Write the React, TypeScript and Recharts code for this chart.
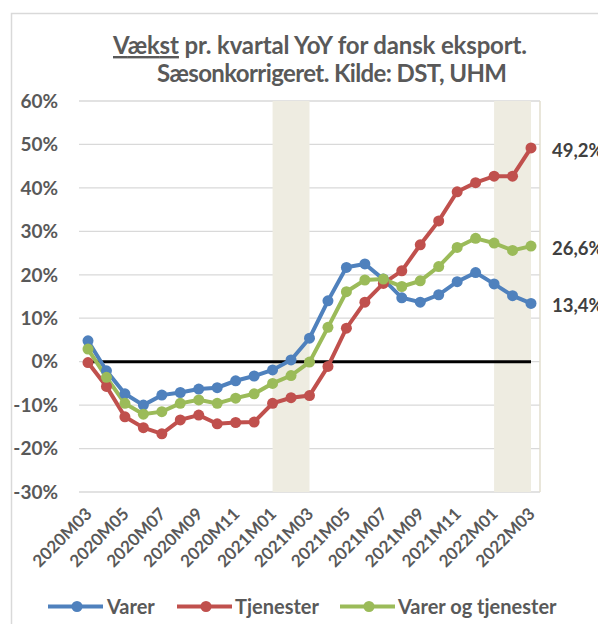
import React from 'react';
import {
  LineChart,
  Line,
  XAxis,
  YAxis,
  CartesianGrid,
  ReferenceArea,
  ReferenceLine,
  LabelList,
} from 'recharts';

const months = [
  '2020M03', '2020M04', '2020M05', '2020M06', '2020M07', '2020M08', '2020M09',
  '2020M10', '2020M11', '2020M12', '2021M01', '2021M02', '2021M03', '2021M04',
  '2021M05', '2021M06', '2021M07', '2021M08', '2021M09', '2021M10', '2021M11',
  '2021M12', '2022M01', '2022M02', '2022M03',
];

const varer = [
  4.8, -2.1, -7.4, -10.0, -7.7, -7.1, -6.3, -6.0, -4.4, -3.3, -1.9, 0.4, 5.4,
  14.0, 21.7, 22.5, 19.0, 14.7, 13.7, 15.4, 18.4, 20.5, 17.9, 15.2, 13.4,
];

const tjenester = [
  -0.2, -5.7, -12.7, -15.2, -16.6, -13.4, -12.3, -14.3, -14.0, -13.9, -9.6, -8.3,
  -7.8, -1.1, 7.7, 13.7, 18.0, 20.9, 26.9, 32.4, 39.1, 41.2, 42.7, 42.7, 49.2,
];

const varerOgTjenester = [
  2.9, -3.6, -9.6, -12.1, -11.5, -9.6, -8.8, -9.6, -8.4, -7.4, -5.0, -3.2, -0.1,
  7.9, 16.1, 18.8, 19.0, 17.3, 18.6, 21.9, 26.3, 28.4, 27.3, 25.6, 26.6,
];

const yTicks = [-30, -20, -10, 0, 10, 20, 30, 40, 50, 60];
const rightAxisTicks = [0, 0.25, 0.5, 0.75, 1];
const shadedPeriods = [
  ['2021M01', '2021M03'],
  ['2022M01', '2022M03'],
];

const seriesNames = ['Varer', 'Tjenester', 'Varer og tjenester'];
const seriesKeys = ['varer', 'tjenester', 'samlet'];
const seriesColors = ['#4F81BD', '#C0504D', '#9BBB59'];

const data = months.map((m, i) => ({
  month: m,
  varer: varer[i],
  tjenester: tjenester[i],
  samlet: varerOgTjenester[i],
}));

const FONT = "Lato, 'Open Sans', sans-serif";
const TEXT = '#595959';
const LAST = months.length - 1;

const fmt = (v: number) => `${v.toFixed(1).replace('.', ',')}%`;

const XTick = (props: any) => {
  const { x, y, payload } = props;
  const ex = x + 5;
  const ey = y + 23;
  return (
    <text
      x={ex}
      y={ey}
      transform={`rotate(-45 ${ex} ${ey})`}
      textAnchor="end"
      fontFamily={FONT}
      fontWeight={700}
      fontSize={17}
      fill={TEXT}
    >
      {payload.value}
    </text>
  );
};

const endLabel = (p: any) => {
  if (p.index !== LAST) return null;
  return (
    <text
      x={p.x + 21}
      y={p.y + 2}
      dy="0.36em"
      textAnchor="start"
      fontFamily={FONT}
      fontWeight={700}
      fontSize={18.5}
      fill="#404040"
    >
      {fmt(p.value)}
    </text>
  );
};

const legendLayout = [
  { lineX: 48, textX: 107 },
  { lineX: 177, textX: 235 },
  { lineX: 340, textX: 398 },
];

export default function App() {
  return (
    <div style={{ position: 'relative', width: 598, height: 616 }}>
      <div
        style={{
          position: 'absolute',
          left: -8,
          top: -8,
          width: 606,
          height: 624,
          background: '#ffffff',
          overflow: 'hidden',
        }}
      >
        <LineChart
          width={606}
          height={624}
          data={data}
          margin={{ top: 101, right: 0, bottom: 0, left: 0 }}
        >
          <CartesianGrid vertical={false} stroke="#D9D9D9" strokeWidth={1.3} />
          {shadedPeriods.map(([a, b]) => (
            <ReferenceArea
              key={a}
              x1={a}
              x2={b}
              fill="#EEECE1"
              fillOpacity={1}
              stroke="none"
              ifOverflow="visible"
            />
          ))}
          <XAxis
            dataKey="month"
            type="category"
            padding={{ left: 9, right: 9 }}
            height={132}
            interval={1}
            axisLine={false}
            tickLine={false}
            tickSize={0}
            tickMargin={0}
            tick={<XTick />}
          />
          <YAxis
            domain={[-30, 60]}
            ticks={yTicks}
            width={79}
            axisLine={false}
            tickLine={false}
            tickSize={0}
            tickMargin={21}
            tickFormatter={(v: number) => `${v}%`}
            tick={{ fontFamily: FONT, fontWeight: 700, fontSize: 19, fill: TEXT }}
          />
          <YAxis
            yAxisId="right"
            orientation="right"
            domain={[0, 1.2]}
            ticks={rightAxisTicks}
            width={66}
            axisLine={{ stroke: '#E2DECE', strokeWidth: 1.5 }}
            tickLine={{ stroke: '#E2DECE', strokeWidth: 1.5 }}
            tickSize={5}
            tick={false}
          />
          <ReferenceLine
            segment={[
              { x: months[0], y: 0 },
              { x: months[LAST], y: 0 },
            ]}
            stroke="#000000"
            strokeWidth={3}
          />
          {seriesKeys.map((k, i) => (
            <Line
              key={k}
              dataKey={k}
              name={seriesNames[i]}
              type="linear"
              stroke={seriesColors[i]}
              strokeWidth={4}
              dot={{ r: 5.5, fill: seriesColors[i], stroke: seriesColors[i], strokeWidth: 0 }}
              activeDot={false}
              isAnimationActive={false}
            >
              <LabelList dataKey={k} content={endLabel} />
            </Line>
          ))}
        </LineChart>
        <svg
          width={606}
          height={624}
          style={{ position: 'absolute', left: 0, top: 0, pointerEvents: 'none' }}
        >
          <line x1={1.5} y1={0} x2={1.5} y2={624} stroke="#E3E3E3" strokeWidth={1.5} />
          <rect x={11.5} y={13.5} width={700} height={700} fill="none" stroke="#D9D9D9" strokeWidth={1.5} />
          <text
            x={113}
            y={54}
            fontFamily={FONT}
            fontWeight={700}
            fontSize={24}
            fill={TEXT}
            textLength={414}
            lengthAdjust="spacing"
          >
            <tspan style={{ textDecoration: 'underline' }}>Vækst</tspan>
            <tspan> pr. kvartal YoY for dansk eksport.</tspan>
          </text>
          <text
            x={157}
            y={82}
            fontFamily={FONT}
            fontWeight={700}
            fontSize={24}
            fill={TEXT}
            textLength={350}
            lengthAdjust="spacing"
          >
            Sæsonkorrigeret. Kilde: DST, UHM
          </text>
          {seriesNames.map((n, i) => (
            <g key={n}>
              <line
                x1={legendLayout[i].lineX}
                y1={606.5}
                x2={legendLayout[i].lineX + 55}
                y2={606.5}
                stroke={seriesColors[i]}
                strokeWidth={4}
              />
              <circle cx={legendLayout[i].lineX + 29} cy={606.5} r={5.5} fill={seriesColors[i]} />
              <text
                x={legendLayout[i].textX}
                y={613.5}
                fontFamily={FONT}
                fontWeight={700}
                fontSize={20}
                fill={TEXT}
              >
                {n}
              </text>
            </g>
          ))}
        </svg>
      </div>
    </div>
  );
}
